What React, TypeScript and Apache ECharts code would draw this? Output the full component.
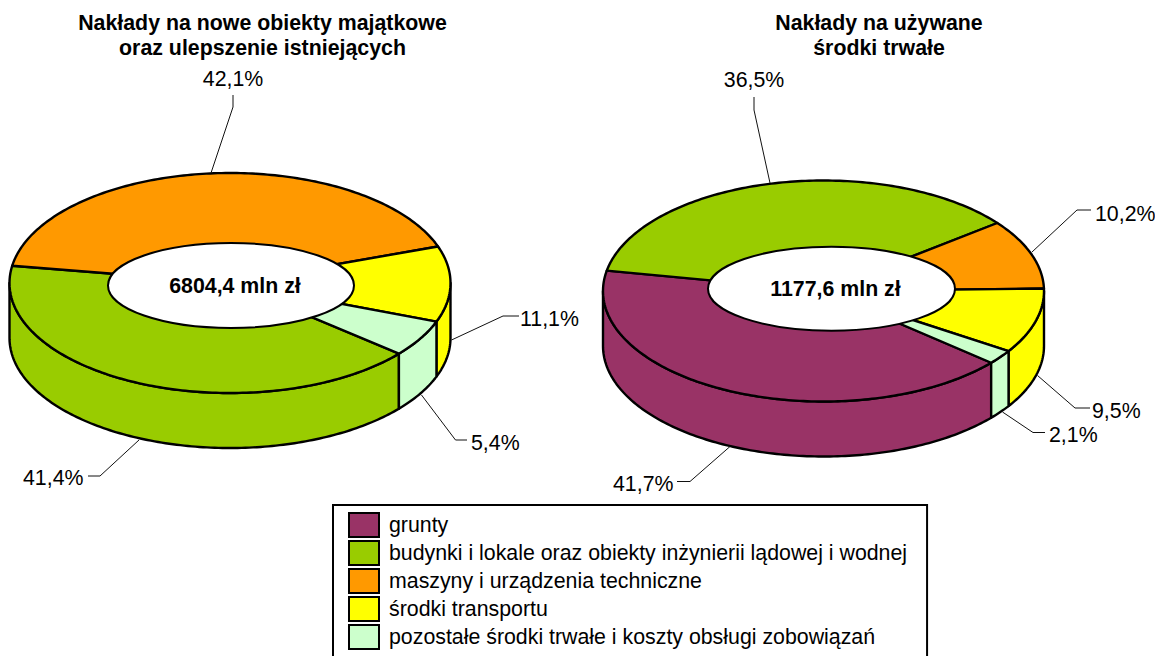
import React, { useEffect, useRef } from "react";
import * as echarts from "echarts";

const FONT = '"Liberation Sans", Arial, sans-serif';

const categories = [
  "grunty",
  "budynki i lokale oraz obiekty inżynierii lądowej i wodnej",
  "maszyny i urządzenia techniczne",
  "środki transportu",
  "pozostałe środki trwałe i koszty obsługi zobowiązań",
];
const colors = ["#993366", "#99CC00", "#FF9900", "#FFFF00", "#CCFFCC"];

const newAssetsShares = [0, 41.4, 42.1, 11.1, 5.4];
const usedAssetsShares = [41.7, 36.5, 10.2, 9.5, 2.1];
const totals = [6804.4, 1177.6];
const titles = [
  "Nakłady na nowe obiekty majątkowe\noraz ulepszenie istniejących",
  "Nakłady na używane\nśrodki trwałe",
];
const shares = [newAssetsShares, usedAssetsShares];

// Layout of the two discs (pixels)
const DISCS = [
  { cx: 230, cy: 283, rx: 220.5, ry: 110, depth: 55, hx: 231, hy: 285.5, hrx: 123, hry: 42.5, start: 130, titleX: 262.5 },
  { cx: 823.5, cy: 291, rx: 220.5, ry: 110.5, depth: 55, hx: 831.5, hy: 288.7, hrx: 123.5, hry: 42, start: 130.5, titleX: 879 },
];
// Label placement: leader line polyline and the text anchor, per disc and category
const LABELS: any[][] = [
  [
    null,
    { line: [[139, 440], [100, 476], [88, 476]], x: 23, y: 478, align: "left" },
    { line: [[211, 173], [233, 107], [233, 95]], x: 233, y: 79, align: "center" },
    { line: [[451.5, 340], [503, 316], [519, 316]], x: 520, y: 319, align: "left" },
    { line: [[421.5, 395], [455.5, 440], [467, 440]], x: 471, y: 443, align: "left" },
  ],
  [
    { line: [[730, 446.5], [690, 481.5], [677, 481.5]], x: 613, y: 484, align: "left" },
    { line: [[770, 183], [754, 110], [754, 97]], x: 754, y: 80, align: "center" },
    { line: [[1032, 252], [1077, 210], [1091, 210]], x: 1095, y: 214, align: "left" },
    { line: [[1037.5, 375.5], [1075, 408], [1090, 408]], x: 1092, y: 411, align: "left" },
    { line: [[1002.5, 412], [1033, 432.5], [1045, 432.5]], x: 1049, y: 435, align: "left" },
  ],
];

const LABEL_SIZE = 21.33;
const STROKE = 2.4;

const pt = (d: any, deg: number, dy = 0) => {
  const t = (deg * Math.PI) / 180;
  return [d.cx + d.rx * Math.sin(t), d.cy - d.ry * Math.cos(t) + dy];
};
const arc = (d: any, a: number, b: number, dy = 0) => {
  const pts: number[][] = [];
  const n = Math.max(2, Math.ceil(Math.abs(b - a)));
  for (let i = 0; i <= n; i++) pts.push(pt(d, a + ((b - a) * i) / n, dy));
  return pts;
};

const sliceRenderer = (catIndex: number) => (_params: any, api: any) => {
  const discIndex = api.value(0);
  const value = api.value(1);
  if (!value) return { type: "group", children: [] };
  const d = DISCS[discIndex];
  const before = shares[discIndex].slice(0, catIndex).reduce((s, v) => s + v, 0);
  const total = shares[discIndex].reduce((s, v) => s + v, 0);
  const a = d.start + (before / total) * 360;
  const b = a + (value / total) * 360;
  const fill = colors[catIndex];
  const children: any[] = [];
  // Visible outer wall: the part of the slice on the front half of the rim
  for (const k of [-360, 0, 360]) {
    const lo = Math.max(a + k, 90);
    const hi = Math.min(b + k, 270);
    if (hi > lo) {
      children.push({
        type: "polygon",
        shape: { points: [...arc(d, lo, hi), ...arc(d, hi, lo, d.depth)] },
        style: { fill, stroke: "#000", lineWidth: STROKE, lineJoin: "round" },
      });
    }
  }
  // Top face
  children.push({
    type: "polygon",
    shape: { points: [[d.cx, d.cy], ...arc(d, a, b)] },
    style: { fill, stroke: "#000", lineWidth: STROKE, lineJoin: "round" },
  });
  // Label
  const lab = LABELS[discIndex][catIndex];
  if (lab) {
    children.push({
      type: "polyline",
      shape: { points: lab.line },
      style: { fill: "none", stroke: "#111", lineWidth: 1 },
      z2: 5,
    });
    children.push({
      type: "text",
      x: lab.x,
      y: lab.y,
      style: {
        text: value.toFixed(1).replace(".", ",") + "%",
        fontFamily: FONT,
        fontSize: LABEL_SIZE,
        fill: "#000",
        align: lab.align,
        verticalAlign: "middle",
      },
      z2: 5,
    });
  }
  return { type: "group", children };
};

const holeRenderer = (_params: any, api: any) => {
  const d = DISCS[api.value(0)];
  return {
    type: "group",
    children: [
      {
        type: "ellipse",
        shape: { cx: d.hx, cy: d.hy, rx: d.hrx, ry: d.hry },
        style: { fill: "#fff", stroke: "#000", lineWidth: 2 },
      },
      {
        type: "text",
        x: d.hx + 4,
        y: d.hy,
        style: {
          text: api.value(1).toFixed(1).replace(".", ",") + " mln zł",
          fontFamily: FONT,
          fontSize: LABEL_SIZE,
          fontWeight: "bold",
          fill: "#000",
          align: "center",
          verticalAlign: "middle",
        },
      },
    ],
  };
};

export default function App() {
  const ref = useRef<HTMLDivElement>(null);
  useEffect(() => {
    const chart = echarts.init(ref.current!, undefined, { renderer: "svg" });
    chart.setOption({
      animation: false,
      backgroundColor: "#fff",
      title: titles.map((text, i) => ({
        text,
        left: DISCS[i].titleX,
        top: 10,
        padding: 0,
        textAlign: "center",
        textStyle: { fontFamily: FONT, fontSize: LABEL_SIZE, fontWeight: "bold", color: "#000", lineHeight: 25 },
      })),
      legend: {
        data: categories,
        orient: "vertical",
        left: 333,
        top: 505,
        height: 148,
        padding: [7, 20, 7, 15],
        itemWidth: 30,
        itemHeight: 24,
        itemGap: 2,
        icon: "rect",
        backgroundColor: "#fff",
        borderColor: "#000",
        borderWidth: 2,
        borderRadius: 0,
        selectedMode: false,
        itemStyle: { borderColor: "#000", borderWidth: 2 },
        textStyle: { fontFamily: FONT, fontSize: LABEL_SIZE, lineHeight: 24, color: "#000", padding: [0, 0, 0, 5] },
      },
      series: [
        ...categories.map((name, c) => ({
          type: "custom",
          name,
          coordinateSystem: "none",
          silent: true,
          itemStyle: { color: colors[c] },
          data: [
            [0, newAssetsShares[c]],
            [1, usedAssetsShares[c]],
          ],
          renderItem: sliceRenderer(c),
        })),
        {
          type: "custom",
          name: "hole",
          coordinateSystem: "none",
          silent: true,
          z: 3,
          data: totals.map((t, i) => [i, t]),
          renderItem: holeRenderer,
        },
      ],
    });
    return () => chart.dispose();
  }, []);
  return <div ref={ref} style={{ position: "fixed", left: 0, top: 0, width: 1155, height: 656 }} />;
}
